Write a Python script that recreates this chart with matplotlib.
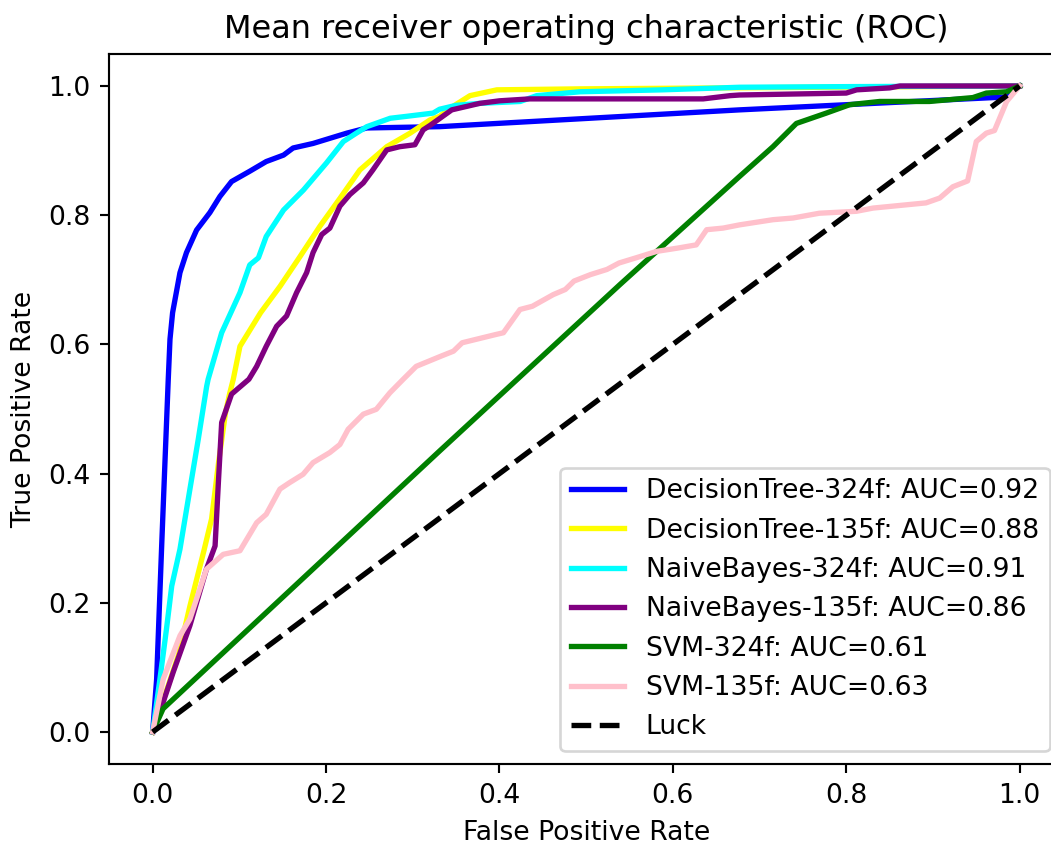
import matplotlib
matplotlib.use('Agg')
import matplotlib.pyplot as plt

# ROC points (fpr, tpr)
dt324_fpr = [0.0, 0.0046, 0.0104, 0.0142, 0.018, 0.020, 0.023, 0.0315, 0.039, 0.0507, 0.066, 0.0776,
             0.091, 0.112, 0.131, 0.151, 0.162, 0.185, 0.224, 0.247, 0.331, 0.677, 0.985, 1.0]
dt324_tpr = [0.0, 0.082, 0.288, 0.418, 0.546, 0.608, 0.649, 0.711, 0.742, 0.777, 0.804, 0.829,
             0.852, 0.868, 0.883, 0.893, 0.904, 0.911, 0.927, 0.935, 0.937, 0.963, 0.983, 1.0]

dt135_fpr = [0.0, 0.01, 0.03, 0.043, 0.059, 0.068, 0.076, 0.084, 0.089, 0.093, 0.1007, 0.1245, 0.147,
             0.170, 0.193, 0.216, 0.239, 0.270, 0.297, 0.320, 0.331, 0.343, 0.366, 0.397, 0.493, 1.0]
dt135_tpr = [0.0, 0.04, 0.12, 0.195, 0.280, 0.33, 0.417, 0.494, 0.525, 0.546, 0.597, 0.649, 0.690,
             0.736, 0.783, 0.826, 0.870, 0.906, 0.927, 0.9475, 0.953, 0.9655, 0.985, 0.994, 0.9955, 1.0]

nb324_fpr = [0.0, 0.0084, 0.016, 0.022, 0.0315, 0.043, 0.0526, 0.0623, 0.064, 0.0796, 0.1007, 0.112,
             0.122, 0.131, 0.151, 0.174, 0.2006, 0.22, 0.235, 0.247, 0.274, 0.293, 0.3235, 0.331,
             0.350, 0.377, 0.424, 0.443, 0.493, 0.588, 0.677, 0.804, 1.0]
nb324_tpr = [0.0, 0.082, 0.160, 0.226, 0.283, 0.376, 0.453, 0.535, 0.546, 0.618, 0.680, 0.723,
             0.734, 0.767, 0.808, 0.839, 0.881, 0.914, 0.927, 0.937, 0.950, 0.953, 0.958, 0.964,
             0.970, 0.973, 0.976, 0.985, 0.991, 0.994, 0.998, 0.999, 1.0]

nb135_fpr = [0.0, 0.0084, 0.0238, 0.043, 0.062, 0.072, 0.076, 0.0796, 0.091, 0.111, 0.120, 0.131,
             0.143, 0.1545, 0.166, 0.1776, 0.185, 0.195, 0.2044, 0.216, 0.2275, 0.243, 0.254, 0.270,
             0.285, 0.3025, 0.312, 0.320, 0.345, 0.377, 0.400, 0.435, 0.635, 0.666, 0.677, 0.800,
             0.812, 0.850, 0.862, 1.0]
nb135_tpr = [0.0, 0.031, 0.093, 0.165, 0.252, 0.288, 0.391, 0.479, 0.523, 0.546, 0.566, 0.597,
             0.628, 0.644, 0.680, 0.711, 0.742, 0.770, 0.780, 0.814, 0.832, 0.850, 0.870, 0.901,
             0.906, 0.909, 0.932, 0.939, 0.963, 0.973, 0.977, 0.980, 0.980, 0.985, 0.986, 0.989,
             0.994, 0.997, 1.0, 1.0]

svm324_fpr = [0.0, 0.012, 0.331, 0.539, 0.677, 0.7155, 0.7425, 0.777, 0.804, 0.8386, 0.896, 0.946,
              0.9616, 0.985, 1.0]
svm324_tpr = [0.0, 0.036, 0.435, 0.6926, 0.860, 0.906, 0.942, 0.958, 0.971, 0.976, 0.976, 0.982,
              0.989, 0.991, 1.0]

svm135_fpr = [0.0, 0.0122, 0.0315, 0.043, 0.062, 0.0814, 0.1007, 0.120, 0.131, 0.1468, 0.158, 0.1736,
              0.185, 0.2044, 0.216, 0.2255, 0.243, 0.258, 0.2736, 0.289, 0.304, 0.333, 0.347, 0.357,
              0.395, 0.4046, 0.4237, 0.438, 0.462, 0.476, 0.486, 0.505, 0.524, 0.538, 0.5576, 0.5815,
              0.6054, 0.627, 0.639, 0.658, 0.677, 0.7155, 0.7386, 0.769, 0.8117, 0.831, 0.892, 0.9078,
              0.923, 0.940, 0.950, 0.9616, 0.971, 0.985, 1.0]
svm135_tpr = [0.0, 0.082, 0.149, 0.175, 0.252, 0.275, 0.2806, 0.324, 0.337, 0.376, 0.386, 0.399,
              0.417, 0.4326, 0.445, 0.4686, 0.492, 0.4995, 0.525, 0.546, 0.566, 0.582, 0.5895, 0.6025,
              0.615, 0.618, 0.654, 0.659, 0.677, 0.685, 0.698, 0.708, 0.716, 0.726, 0.734, 0.744,
              0.749, 0.754, 0.7775, 0.780, 0.785, 0.793, 0.7956, 0.803, 0.806, 0.811, 0.819, 0.8265,
              0.844, 0.853, 0.914, 0.927, 0.931, 0.976, 1.0]

names = ['DecisionTree-324f', 'DecisionTree-135f', 'NaiveBayes-324f', 'NaiveBayes-135f',
         'SVM-324f', 'SVM-135f']
aucs = [0.92, 0.88, 0.91, 0.86, 0.61, 0.63]
colors = ['blue', 'yellow', 'cyan', 'purple', 'green', 'pink']
curves = [(dt324_fpr, dt324_tpr), (dt135_fpr, dt135_tpr), (nb324_fpr, nb324_tpr),
          (nb135_fpr, nb135_tpr), (svm324_fpr, svm324_tpr), (svm135_fpr, svm135_tpr)]

DPI = 192
fig = plt.figure(figsize=(1051 / DPI, 845 / DPI), dpi=DPI)
# axes run past the right edge, like the cropped original
ax = fig.add_axes([0.104, 0.0955, 0.9074, 0.841])

for (fpr, tpr), name, auc, c in zip(curves, names, aucs, colors):
    ax.plot(fpr, tpr, color=c, lw=2, label=name + ': AUC=' + str(auc))

ax.plot([0, 1], [0, 1], 'k--', lw=2, label='Luck')

ax.set_xlim(-0.05, 1.05)
ax.set_ylim(-0.05, 1.05)
ax.set_xlabel('False Positive Rate')
ax.set_ylabel('True Positive Rate')
ax.set_title('Mean receiver operating characteristic (ROC)')
ax.legend(loc='lower right')

fig.savefig('out.png', dpi=DPI)
